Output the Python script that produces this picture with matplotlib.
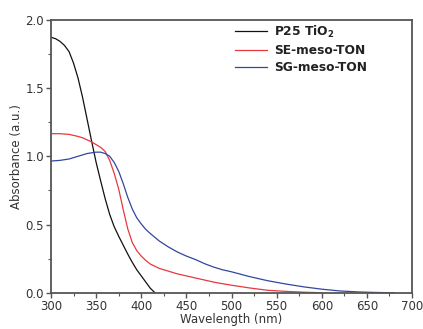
import matplotlib
matplotlib.use("Agg")
import matplotlib.pyplot as plt
from matplotlib.ticker import MultipleLocator, FormatStrFormatter

plt.rcParams['font.family'] = ['DejaVu Sans']
plt.rcParams['mathtext.fontset'] = 'dejavusans'

# Data
wl_p25 = [300, 305, 310, 315, 320, 325, 330, 335, 340, 345, 350, 355, 360, 365,
          370, 375, 380, 385, 390, 395, 400, 405, 410, 415]
abs_p25 = [1.87, 1.86, 1.84, 1.81, 1.765, 1.68, 1.57, 1.43, 1.27, 1.11, 0.955, 0.82,
           0.69, 0.575, 0.485, 0.415, 0.35, 0.285, 0.225, 0.17, 0.125, 0.08, 0.035, 0.003]

wl_se = [300, 310, 320, 330, 335, 340, 345, 350, 355, 360, 365, 370, 375, 380, 385,
         390, 395, 400, 405, 410, 420, 430, 440, 450, 460, 470, 480, 490, 500, 520,
         540, 560, 580, 600]
abs_se = [1.165, 1.165, 1.16, 1.145, 1.135, 1.12, 1.105, 1.085, 1.065, 1.035, 0.97,
          0.875, 0.76, 0.61, 0.47, 0.37, 0.31, 0.27, 0.238, 0.212, 0.18, 0.16, 0.14,
          0.125, 0.11, 0.095, 0.08, 0.068, 0.057, 0.037, 0.02, 0.012, 0.006, 0.002]

wl_sg = [300, 310, 320, 330, 340, 345, 350, 355, 360, 365, 370, 375, 380, 385, 390,
         395, 400, 405, 410, 420, 430, 440, 450, 460, 470, 480, 490, 500, 520, 540, 560,
         580, 600, 620, 640, 660, 680]
abs_sg = [0.965, 0.97, 0.98, 1.0, 1.02, 1.025, 1.03, 1.03, 1.02, 1.0, 0.955,
          0.89, 0.80, 0.70, 0.615, 0.55, 0.505, 0.465, 0.435, 0.38, 0.337, 0.30, 0.27,
          0.245, 0.215, 0.19, 0.17, 0.155, 0.12, 0.09, 0.066, 0.045, 0.028, 0.015,
          0.008, 0.004, 0.002]

labels = [r"P25 TiO$_\mathbf{2}$", "SE-meso-TON", "SG-meso-TON"]
colors = ["#111111", "#e8383d", "#3346a0"]

fig = plt.figure(figsize=(4.23, 3.29), dpi=100)
ax = fig.add_axes([0.1206, 0.1094, 0.8534, 0.8313])

ax.plot(wl_p25, abs_p25, color=colors[0], lw=0.9, label=labels[0])
ax.plot(wl_se, abs_se, color=colors[1], lw=0.9, label=labels[1])
ax.plot(wl_sg, abs_sg, color=colors[2], lw=0.9, label=labels[2])

ax.set_xlim(300, 700)
ax.set_ylim(0, 2.0)
ax.xaxis.set_major_locator(MultipleLocator(50))
ax.xaxis.set_minor_locator(MultipleLocator(25))
ax.yaxis.set_major_locator(MultipleLocator(0.5))
ax.yaxis.set_minor_locator(MultipleLocator(0.25))
ax.yaxis.set_major_formatter(FormatStrFormatter('%.1f'))

for s in ax.spines.values():
    s.set_color('#555555')
    s.set_linewidth(1.3)
ax.tick_params(which='major', direction='out', length=3.5, width=1, color='#555555',
               labelsize=8.5, labelcolor='#333333', pad=1.5)
ax.tick_params(which='minor', direction='out', length=2, width=0.8, color='#555555')
ax.tick_params(axis='x', which='both', top=False)
ax.tick_params(axis='y', which='both', right=False)

ax.set_xlabel("Wavelength (nm)", fontsize=8.5, color='#333333', labelpad=0)
ax.set_ylabel("Absorbance (a.u.)", fontsize=8.5, color='#333333', labelpad=2)

leg = ax.legend(loc='upper left', bbox_to_anchor=(0.487, 1.017), frameon=False,
                prop={'weight': 'bold', 'size': 8.8}, handlelength=2.6,
                handletextpad=0.6, labelspacing=0.35, borderaxespad=0.3)
for t in leg.get_texts():
    t.set_color('#222222')

fig.savefig("out.png", dpi=100)
